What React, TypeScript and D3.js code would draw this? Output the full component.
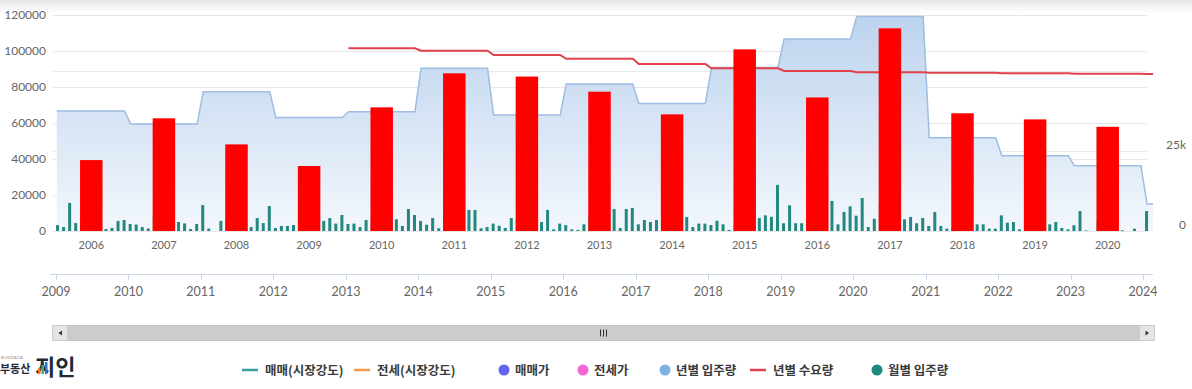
import { useEffect, useRef } from "react";
import * as d3 from "d3";

// yearly categories on the main chart
const years = [2006, 2007, 2008, 2009, 2010, 2011, 2012, 2013, 2014, 2015, 2016, 2017, 2018, 2019, 2020];
// red columns (one per year)
const annualBars = [39400, 62600, 48100, 36100, 68700, 87600, 85800, 77400, 64800, 100900, 74200, 112600, 65400, 62000, 57900];
// 년별 입주량 (blue area), 2006..2021
const supplyYears = [2006, 2007, 2008, 2009, 2010, 2011, 2012, 2013, 2014, 2015, 2016, 2017, 2018, 2019, 2020, 2021];
const supplyValues = [66700, 59400, 77400, 63000, 66300, 90400, 64400, 81700, 70900, 90800, 106700, 119100, 51800, 41800, 36300, 15000];
// 년별 수요량 (red line), 2010..2021
const demandYears = [2010, 2011, 2012, 2013, 2014, 2015, 2016, 2017, 2018, 2019, 2020, 2021];
const demandValues = [101500, 100200, 97800, 95700, 92800, 90400, 88900, 88200, 87900, 87700, 87400, 87200];
// 월별 입주량 (teal columns), one row per year, Jan..Dec
const monthlyMoveIn = [
  [3300, 2200, 15600, 4400, 6000, 7500, 6500, 6700, 1100, 1700, 5600, 6100],
  [3900, 3600, 2200, 1400, 9000, 8000, 8500, 8500, 5000, 4200, 1100, 3900],
  [14400, 1400, 0, 5600, 7000, 7500, 7000, 7200, 2200, 7200, 4400, 13900],
  [1700, 2800, 2800, 3300, 6500, 6800, 6600, 6500, 5600, 7200, 4100, 8900],
  [3900, 4100, 2200, 6100, 5000, 5200, 4800, 5000, 6500, 2800, 12200, 8900],
  [5600, 3500, 7200, 1500, 11000, 11800, 11400, 11500, 11700, 11700, 1500, 2200],
  [4100, 2900, 1700, 7200, 6500, 6900, 6700, 6700, 5000, 11700, 900, 4100],
  [3300, 900, 600, 3700, 8500, 8700, 8600, 8500, 12200, 1700, 12200, 12800],
  [3700, 6100, 5000, 6100, 8000, 8200, 7800, 8000, 7800, 2200, 4100, 4100],
  [3300, 5700, 3700, 600, 3300, 8000, 8300, 8300, 7200, 8700, 7900, 25600],
  [4300, 14300, 4300, 4300, 6100, 9500, 9700, 9600, 16700, 3700, 10600, 13700],
  [8500, 18300, 2200, 6800, 15000, 14000, 14500, 14300, 6500, 7800, 4300, 7200],
  [2800, 10600, 2800, 1300, 1800, 7500, 7400, 7500, 3700, 3700, 1300, 1300],
  [8700, 4600, 5000, 900, 2800, 2800, 2800, 2800, 3700, 5000, 1700, 900],
  [3200, 11100, 300, 0, 5000, 5000, 5100, 5000, 400, 0, 1300, 0],
  [11100],
];
const leftTicks = [0, 20000, 40000, 60000, 80000, 100000, 120000];
const rightGrid = [25000, 50000];
const rightLabels = [0, 25000];
const navYears = [2009, 2010, 2011, 2012, 2013, 2014, 2015, 2016, 2017, 2018, 2019, 2020, 2021, 2022, 2023, 2024];
const legendLabels = ["매매(시장강도)", "전세(시장강도)", "매매가", "전세가", "년별 입주량", "년별 수요량", "월별 입주량"];
const legendSymbols = ["line", "line", "circle", "circle", "circle", "line", "circle"];
const legendColors = ["#3a9e9b", "#f29b4c", "#6464f2", "#f266d6", "#7fb1e6", "#e2424f", "#1f8a80"];
const legendTextX = [265, 377, 515, 594, 676, 773, 888];

const W = 1192, H = 389;
const NUM_FONT = "Lato, 'DejaVu Sans', sans-serif";
const KR_FONT = "'Noto Sans CJK KR', 'Noto Sans', sans-serif";

export default function App() {
  const ref = useRef<SVGSVGElement | null>(null);

  useEffect(() => {
    if (!ref.current) return;
    const svg = d3.select(ref.current);
    svg.selectAll("*").remove();

    const startYear = years[0];
    const monthW = 6.05;
    const x = d3.scaleLinear().domain([0, 182]).range([55, 55 + 182 * monthW]);
    const y = d3.scaleLinear().domain([0, 120000]).range([231, 15]);
    const y2 = d3.scaleLinear().domain([0, 67500]).range([231, 15]);

    const defs = svg.append("defs");
    const top = defs.append("linearGradient").attr("id", "topShade").attr("x1", 0).attr("y1", 0).attr("x2", 0).attr("y2", 1);
    top.append("stop").attr("offset", "0%").attr("stop-color", "#e6e6e6");
    top.append("stop").attr("offset", "100%").attr("stop-color", "#ffffff");
    const ag = defs.append("linearGradient").attr("id", "areaFill").attr("gradientUnits", "userSpaceOnUse")
      .attr("x1", 0).attr("y1", y(120000)).attr("x2", 0).attr("y2", y(0));
    ag.append("stop").attr("offset", "0%").attr("stop-color", "#bcd3ee");
    ag.append("stop").attr("offset", "100%").attr("stop-color", "#f3f7fc");

    svg.append("rect").attr("width", W).attr("height", H).attr("fill", "#fff");
    svg.append("rect").attr("width", W).attr("height", 13).attr("fill", "url(#topShade)");

    // gridlines
    const g = svg.append("g");
    g.selectAll("line.gl").data(leftTicks).join("line")
      .attr("x1", 53).attr("x2", 1147).attr("y1", d => y(d) + 0.5).attr("y2", d => y(d) + 0.5)
      .attr("stroke", "#e6e6e6");
    g.selectAll("line.gr").data(rightGrid).join("line")
      .attr("x1", 53).attr("x2", 1147).attr("y1", d => y2(d) + 0.5).attr("y2", d => y2(d) + 0.5)
      .attr("stroke", "#ececec");

    g.selectAll("text.yl").data(leftTicks).join("text")
      .attr("x", 46).attr("y", d => y(d) + 4).attr("text-anchor", "end")
      .attr("font-family", NUM_FONT).attr("font-size", 12).attr("fill", "#666")
      .text(d => String(d));
    g.selectAll("text.yr").data(rightLabels).join("text")
      .attr("x", 1186).attr("y", d => y2(d) - 2).attr("text-anchor", "end")
      .attr("font-family", NUM_FONT).attr("font-size", 12).attr("fill", "#666")
      .text(d => (d === 0 ? "0" : `${d / 1000}k`));

    // blue area (년별 입주량)
    const supplyPts: [number, number][] = [];
    supplyYears.forEach((yr, i) => {
      const m0 = (yr - startYear) * 12;
      const last = yr === 2021 ? 1.5 : 11.5;
      supplyPts.push([m0 + 0.5, supplyValues[i]], [m0 + last, supplyValues[i]]);
    });
    supplyPts[0] = [0.3, supplyValues[0]];
    const area = d3.area<[number, number]>().x(d => x(d[0])).y0(y(0)).y1(d => y(d[1]));
    const line = d3.line<[number, number]>().x(d => x(d[0])).y(d => y(d[1]));
    svg.append("path").datum(supplyPts).attr("d", area).attr("fill", "url(#areaFill)");
    svg.append("path").datum(supplyPts).attr("d", line).attr("fill", "none")
      .attr("stroke", "#9dbde2").attr("stroke-width", 1.5);

    // teal monthly columns
    const monthly = monthlyMoveIn.flat();
    svg.append("g").selectAll("rect").data(monthly).join("rect")
      .attr("x", (_, m) => x(m + 0.42) - 1.5).attr("width", 3)
      .attr("y", d => y(d)).attr("height", d => y(0) - y(d))
      .attr("fill", "#23887f");

    // red line (년별 수요량)
    const demandPts: [number, number][] = [];
    demandYears.forEach((yr, i) => {
      const m0 = (yr - startYear) * 12;
      const last = yr === 2021 ? 1.5 : 11.5;
      demandPts.push([m0 + 0.5, demandValues[i]], [m0 + last, demandValues[i]]);
    });
    svg.append("path").datum(demandPts).attr("d", line).attr("fill", "none")
      .attr("stroke", "#e2404a").attr("stroke-width", 2);

    // red yearly columns
    svg.append("g").selectAll("rect").data(annualBars).join("rect")
      .attr("x", (_, i) => x(i * 12 + 6) - 11.25).attr("width", 22.5)
      .attr("y", d => y(d)).attr("height", d => y(0) - y(d))
      .attr("fill", "#ff0000");

    // category labels
    svg.append("g").selectAll("text").data(years).join("text")
      .attr("x", (_, i) => x(i * 12 + 6)).attr("y", 249).attr("text-anchor", "middle")
      .attr("font-family", NUM_FONT).attr("font-size", 11).attr("fill", "#666")
      .text(d => String(d));

    // navigator axis
    const xn = d3.scaleUtc()
      .domain([new Date(Date.UTC(navYears[0], 0, 1)), new Date(Date.UTC(navYears[navYears.length - 1], 0, 1))])
      .range([56, 1143]);
    svg.append("line").attr("x1", 50).attr("x2", 1153).attr("y1", 274.5).attr("y2", 274.5).attr("stroke", "#ccd6eb");
    const nav = svg.append("g");
    nav.selectAll("line").data(navYears).join("line")
      .attr("x1", d => Math.round(xn(new Date(Date.UTC(d, 0, 1)))) + 0.5)
      .attr("x2", d => Math.round(xn(new Date(Date.UTC(d, 0, 1)))) + 0.5)
      .attr("y1", 274).attr("y2", 280).attr("stroke", "#ccd6eb");
    nav.selectAll("text").data(navYears).join("text")
      .attr("x", d => xn(new Date(Date.UTC(d, 0, 1)))).attr("y", 296).attr("text-anchor", "middle")
      .attr("font-family", NUM_FONT).attr("font-size", 12.5).attr("fill", "#666")
      .text(d => String(d));

    // scrollbar
    const sb = svg.append("g");
    sb.append("rect").attr("x", 52.5).attr("y", 325.5).attr("width", 1102).attr("height", 15)
      .attr("fill", "#cccccc").attr("stroke", "#c4c4c4");
    sb.append("rect").attr("x", 52.5).attr("y", 325.5).attr("width", 15).attr("height", 15)
      .attr("fill", "#e4e4e4").attr("stroke", "#cccccc");
    sb.append("rect").attr("x", 1139.5).attr("y", 325.5).attr("width", 15).attr("height", 15)
      .attr("fill", "#e4e4e4").attr("stroke", "#cccccc");
    sb.append("path").attr("d", "M58.5,333 L62,330.5 L62,335.5 Z").attr("fill", "#333");
    sb.append("path").attr("d", "M1149,333 L1145.5,330.5 L1145.5,335.5 Z").attr("fill", "#333");
    [-3, 0, 3].forEach(dx => {
      sb.append("line").attr("x1", 603.5 + dx).attr("x2", 603.5 + dx).attr("y1", 329.5).attr("y2", 336.5)
        .attr("stroke", "#333").attr("stroke-width", 1);
    });

    // logo
    const logo = svg.append("g");
    logo.append("text").attr("x", 1).attr("y", 359).attr("font-family", NUM_FONT).attr("font-size", 4.5)
      .attr("fill", "#888").attr("letter-spacing", 0.5).text("BIGDATA");
    logo.append("text").attr("x", 0).attr("y", 373).attr("font-family", KR_FONT).attr("font-size", 11)
      .attr("font-weight", 700).attr("fill", "#1e2a38").text("부동산");
    logo.append("text").attr("x", 35).attr("y", 375).attr("font-family", KR_FONT).attr("font-size", 22)
      .attr("font-weight", 700).attr("fill", "#1e2a38").text("지인");
    [["#f07a2a", 6], ["#3fb06a", 9], ["#2f74c2", 12]].forEach(([c, h], i) => {
      logo.append("rect").attr("x", 38 + i * 3.5).attr("y", 374 - (h as number)).attr("width", 2.5)
        .attr("height", h as number).attr("fill", c as string);
    });

    // legend
    const lg = svg.append("g");
    legendLabels.forEach((label, i) => {
      const tx = legendTextX[i];
      if (legendSymbols[i] === "line") {
        lg.append("line").attr("x1", tx - 23).attr("x2", tx - 7).attr("y1", 370).attr("y2", 370)
          .attr("stroke", legendColors[i]).attr("stroke-width", 2.5);
      } else {
        lg.append("circle").attr("cx", tx - 11).attr("cy", 370).attr("r", 5.5).attr("fill", legendColors[i]);
      }
      lg.append("text").attr("x", tx).attr("y", 374.5).attr("font-family", KR_FONT).attr("font-size", 12.5)
        .attr("font-weight", 700).attr("fill", "#3a3a3a").text(label);
    });
  }, []);

  return (
    <div style={{ position: "absolute", left: 0, top: 0 }}>
      <svg ref={ref} width={W} height={H} role="img" aria-label="입주량 및 수요량 차트" />
    </div>
  );
}
